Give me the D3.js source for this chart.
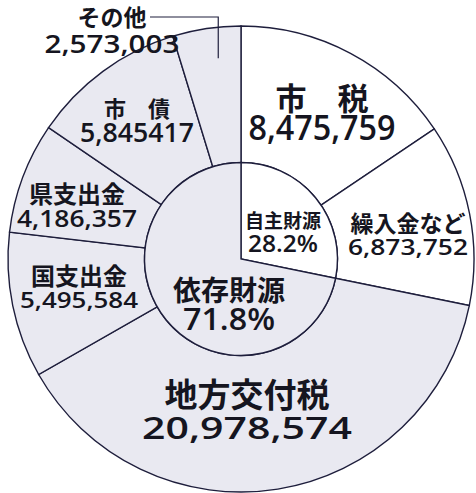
<!DOCTYPE html>
<html>
<head>
<meta charset="utf-8">
<script src="https://cdn.jsdelivr.net/npm/d3@7"></script>
<style>
	html, body { margin: 0; padding: 0; background: #fff; }
</style>
</head>
<body>
<div id="chart"></div>
<script>
// revenue items, clockwise from 12 o'clock
var titles = ["市　税", "繰入金など", "地方交付税", "国支出金", "県支出金", "市　債", "その他"];
var values = [8475759, 6873752, 20978574, 5495584, 4186357, 5845417, 2573003];
var valueText = ["8,475,759", "6,873,752", "20,978,574", "5,495,584", "4,186,357", "5,845417", "2,573,003"];
var groupOf = ["自主財源", "自主財源", "依存財源", "依存財源", "依存財源", "依存財源", "依存財源"];
var groupNames = ["自主財源", "依存財源"];

// label placement (x, title centre y, number baseline y, sizes)
var labelLayout = [
	{x: 322, ty: 96, ny: 140, ts: 31, ns: 35, nw: 147},
	{x: 408, ty: 222, ny: 255, ts: 23, ns: 21, nw: 120},
	{x: 247, ty: 393, ny: 439, ts: 33, ns: 30, nw: 210},
	{x: 79, ty: 274, ny: 308, ts: 24, ns: 22, nw: 118},
	{x: 77, ty: 192, ny: 227, ts: 24, ns: 24, nw: 120},
	{x: 137, ty: 107, ny: 142, ts: 22, ns: 27, nw: 114},
	{x: 112, ty: 16, ny: 53, ts: 23, ns: 26, nw: 135}
];
var groupLayout = [
	{x: 283, ty: 219, ny: 252, ts: 19, ns: 24, nw: 70},
	{x: 229, ty: 289, ny: 330, ts: 28, ns: 31, nw: 92}
];

function init() {
	var w = 476;
	var h = 493;
	var cx = 241, cy = 259;
	var R = 233, r0 = 96.5;
	var stroke = "#1e1e3c";
	var fill = {"自主財源": "#ffffff", "依存財源": "#e9e9f1"};
	var cjk = "'Noto Sans CJK JP', sans-serif";
	var num = "'Open Sans', 'DejaVu Sans', sans-serif";

	var svg = d3.select("#chart")
		.append("svg")
		.attr("width", w)
		.attr("height", h);

	var g = svg.append("g")
		.attr("transform", `translate(${cx},${cy})`);

	var items = values.map((v, i) => ({title: titles[i], value: v, text: valueText[i], group: groupOf[i], layout: labelLayout[i]}));

	var pie = d3.pie().sort(null).value(d => d.value);
	var arcs = pie(items);

	var outer = d3.arc().innerRadius(r0).outerRadius(R);

	g.selectAll(".slice")
		.data(arcs)
		.join("path")
			.attr("class", "slice")
			.attr("d", outer)
			.attr("fill", d => fill[d.data.group])
			.attr("stroke", stroke)
			.attr("stroke-width", 1.4);

	// inner ring: own vs dependent revenue
	var total = d3.sum(values);
	var groups = groupNames.map(n => ({
		name: n,
		value: d3.sum(items.filter(d => d.group == n), d => d.value)
	}));
	var inner = d3.arc().innerRadius(0).outerRadius(r0);

	g.selectAll(".core")
		.data(pie(groups))
		.join("path")
			.attr("class", "core")
			.attr("d", inner)
			.attr("fill", d => fill[d.data.name])
			.attr("stroke", stroke)
			.attr("stroke-width", 1.4);

	// leader for the thin slice
	var last = arcs[arcs.length - 1];
	var end = d3.pointRadial(last.startAngle + (last.endAngle - last.startAngle) * 0.62, 202);
	var lay = labelLayout[labelLayout.length - 1];
	g.append("polyline")
		.attr("points", [[end[0], end[1]], [end[0], lay.ty + 1 - cy], [150 - cx, lay.ty + 1 - cy]].map(p => p.join(",")).join(" "))
		.attr("fill", "none")
		.attr("stroke", stroke)
		.attr("stroke-width", 1.2);

	var labels = svg.append("g");

	function addLabel(title, numText, l) {
		labels.append("text")
			.attr("x", l.x)
			.attr("y", l.ty)
			.attr("text-anchor", "middle")
			.attr("dominant-baseline", "central")
			.attr("font-family", cjk)
			.attr("font-weight", 700)
			.attr("font-size", l.ts)
			.attr("fill", "#151520")
			.text(title);
		labels.append("text")
			.attr("x", l.x)
			.attr("y", l.ny)
			.attr("text-anchor", "middle")
			.attr("font-family", num)
			.attr("font-weight", 600)
			.attr("font-size", l.ns)
			.attr("textLength", l.nw)
			.attr("lengthAdjust", "spacingAndGlyphs")
			.attr("fill", "#151520")
			.text(numText);
	}

	items.forEach(d => addLabel(d.title, d.text, d.layout));
	groups.forEach((d, i) => addLabel(d.name, d3.format(".1%")(d.value / total), groupLayout[i]));
}

window.onload = init;
</script>
</body>
</html>
